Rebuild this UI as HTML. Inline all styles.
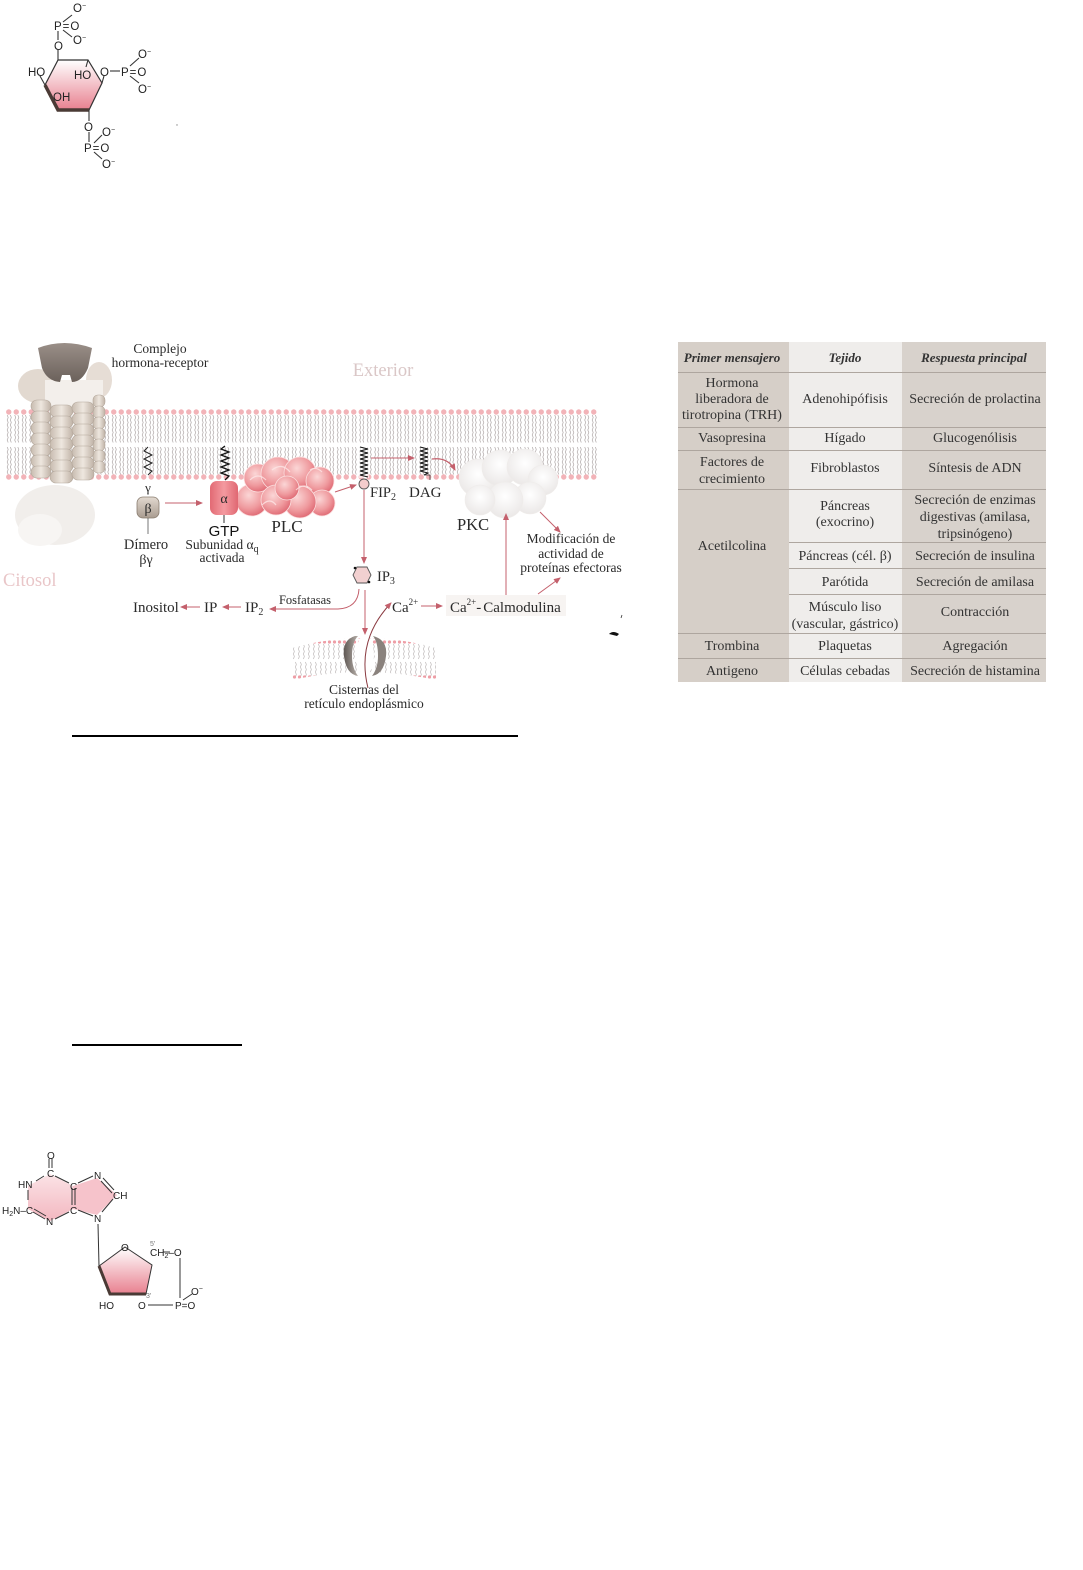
<!DOCTYPE html>
<html><head><meta charset="utf-8">
<style>
html,body{margin:0;padding:0;background:#fff;}
body{width:1083px;height:1570px;position:relative;overflow:hidden;}
svg{position:absolute;left:0;top:0;}
.s{font-family:"Liberation Serif",serif;fill:#2a2a2a;}
.a{font-family:"Liberation Sans",sans-serif;fill:#222;}
.t{font-family:"Liberation Serif",serif;fill:#333;font-size:14px;text-anchor:middle;}
.h{font-family:"Liberation Serif",serif;fill:#333;font-size:13px;font-style:italic;font-weight:bold;text-anchor:middle;}
</style></head>
<body>
<svg width="1083" height="1570" viewBox="0 0 1083 1570" xmlns="http://www.w3.org/2000/svg">
<defs>
  <linearGradient id="pinkv" x1="0" y1="0" x2="0" y2="1">
    <stop offset="0" stop-color="#ffffff"/>
    <stop offset="1" stop-color="#e8808f"/>
  </linearGradient>
  <linearGradient id="pinkv2" x1="0" y1="0" x2="0" y2="1">
    <stop offset="0" stop-color="#fbe3e6"/>
    <stop offset="1" stop-color="#f3b7c0"/>
  </linearGradient>
  <radialGradient id="plc" cx="0.4" cy="0.35" r="0.7">
    <stop offset="0" stop-color="#fbd6d6"/>
    <stop offset="0.6" stop-color="#ef9a9e"/>
    <stop offset="1" stop-color="#de6570"/>
  </radialGradient>
  <linearGradient id="alpha" x1="0" y1="0" x2="1" y2="0">
    <stop offset="0" stop-color="#e26a74"/>
    <stop offset="0.5" stop-color="#f49aa0"/>
    <stop offset="1" stop-color="#e06872"/>
  </linearGradient>
  <linearGradient id="beta" x1="0" y1="0" x2="0" y2="1">
    <stop offset="0" stop-color="#e2d9d0"/>
    <stop offset="1" stop-color="#a99c90"/>
  </linearGradient>
  <radialGradient id="pkc" cx="0.5" cy="0.4" r="0.6">
    <stop offset="0" stop-color="#ffffff"/>
    <stop offset="1" stop-color="#ebe8e7"/>
  </radialGradient>
  <linearGradient id="col" x1="0" y1="0" x2="1" y2="0">
    <stop offset="0" stop-color="#c7bbaf"/>
    <stop offset="0.5" stop-color="#eee7df"/>
    <stop offset="1" stop-color="#bfb2a6"/>
  </linearGradient>
  <linearGradient id="cap" x1="0" y1="0" x2="0" y2="1">
    <stop offset="0" stop-color="#9a8f88"/>
    <stop offset="1" stop-color="#6b615b"/>
  </linearGradient>
  <linearGradient id="chan" x1="0" y1="0" x2="1" y2="0">
    <stop offset="0" stop-color="#5f5854"/>
    <stop offset="1" stop-color="#b6aea8"/>
  </linearGradient>
  <pattern id="lip" x="5" y="409" width="7.5" height="72" patternUnits="userSpaceOnUse">
    <path d="M2.2,6 l1,2.5 l-1,2.5 l1,2.5 l-1,2.5 l1,2.5 l-1,2.5 l1,2.5 l-1,2.5 l1,2.5 l-1,2.5 l1,2.5 M5.3,6 l1,2.5 l-1,2.5 l1,2.5 l-1,2.5 l1,2.5 l-1,2.5 l1,2.5 l-1,2.5 l1,2.5 l-1,2.5 l1,2.5 M2.2,38 l1,2.5 l-1,2.5 l1,2.5 l-1,2.5 l1,2.5 l-1,2.5 l1,2.5 l-1,2.5 l1,2.5 l-1,2.5 l1,2.5 M5.3,38 l1,2.5 l-1,2.5 l1,2.5 l-1,2.5 l1,2.5 l-1,2.5 l1,2.5 l-1,2.5 l1,2.5 l-1,2.5 l1,2.5" fill="none" stroke="#b4adad" stroke-width="0.75"/>
    <circle cx="3.75" cy="3" r="2.7" fill="#f2b3b8"/>
    <circle cx="3.75" cy="68" r="2.7" fill="#f2b3b8"/>
  </pattern>
  <pattern id="lip2" x="292" y="640" width="5" height="40" patternUnits="userSpaceOnUse">
    <path d="M1.5,4 l0.8,2.5 l-0.8,2.5 l0.8,2.5 l-0.8,2.5 l0.8,2.5 l-0.8,2.5 M3.5,22 l0.8,2.5 l-0.8,2.5 l0.8,2.5 l-0.8,2.5 l0.8,2.5 l-0.8,2.5" fill="none" stroke="#b4adad" stroke-width="0.6"/>
    <circle cx="2.5" cy="2" r="1.6" fill="#ee9ea6"/>
    <circle cx="2.5" cy="37" r="1.6" fill="#ee9ea6"/>
  </pattern>
  <marker id="ar" markerWidth="8" markerHeight="8" refX="6" refY="3" orient="auto" markerUnits="userSpaceOnUse">
    <path d="M0,0 L7,3 L0,6 Z" fill="#c4606c"/>
  </marker>
</defs>

<!-- ============ TOP MOLECULE (IP3) ============ -->
<path d="M58,60 L88,60 L102,83 L89,110 L58,110 L45,85 Z" fill="url(#pinkv)" stroke="#333" stroke-width="1.2"/>
<path d="M45,85 L58,110 L89,110" fill="none" stroke="#4a3a35" stroke-width="3.5"/>
<g stroke="#333" stroke-width="1.1" fill="none">
  <line x1="58" y1="50" x2="58" y2="60"/>
  <line x1="58" y1="31" x2="58" y2="40"/>
  <line x1="63" y1="22" x2="72" y2="15"/>
  <line x1="63" y1="30" x2="72" y2="37"/>
  <line x1="40" y1="76" x2="45" y2="85"/>
  <line x1="88" y1="60" x2="86" y2="67"/>
  <line x1="102" y1="83" x2="104" y2="76"/>
  <line x1="110" y1="71" x2="120" y2="71"/>
  <line x1="130" y1="66" x2="139" y2="58"/>
  <line x1="130" y1="76" x2="139" y2="83"/>
  <line x1="89" y1="110" x2="89" y2="121"/>
  <line x1="89" y1="132" x2="89" y2="142"/>
  <line x1="94" y1="143" x2="102" y2="135"/>
  <line x1="94" y1="152" x2="102" y2="159"/>
</g>
<g class="a" font-size="11.5">
  <text x="73" y="12">O<tspan font-size="7" dy="-4">−</tspan></text>
  <text x="54" y="30">P<tspan dx="1">=</tspan><tspan dx="1">O</tspan></text>
  <text x="73" y="44">O<tspan font-size="7" dy="-4">−</tspan></text>
  <text x="54" y="50">O</text>
  <text x="28" y="76">HO</text>
  <text x="74" y="79">HO</text>
  <text x="100" y="76">O</text>
  <text x="121" y="76">P<tspan dx="1">=</tspan><tspan dx="1">O</tspan></text>
  <text x="138" y="58">O<tspan font-size="7" dy="-4">−</tspan></text>
  <text x="138" y="93">O<tspan font-size="7" dy="-4">−</tspan></text>
  <text x="53" y="101">OH</text>
  <text x="84" y="131">O</text>
  <text x="102" y="136">O<tspan font-size="7" dy="-4">−</tspan></text>
  <text x="84" y="152">P<tspan dx="1">=</tspan><tspan dx="1">O</tspan></text>
  <text x="102" y="168">O<tspan font-size="7" dy="-4">−</tspan></text>
</g>
<circle cx="177" cy="125" r="0.7" fill="#888"/>

<!-- ============ SIGNAL DIAGRAM ============ -->
<text class="s" x="383" y="376" font-size="18.5" text-anchor="middle" style="fill:#dac7c7">Exterior</text>
<text class="s" x="3" y="586" font-size="18.5" style="fill:#e9c6c8">Citosol</text>

<!-- membrane -->
<rect x="5" y="409" width="592" height="72" fill="url(#lip)"/>

<!-- receptor -->
<ellipse cx="55" cy="515" rx="40" ry="30" fill="#f1eeeb"/>
<ellipse cx="40" cy="530" rx="22" ry="16" fill="#f7f5f3"/>
<ellipse cx="38" cy="386" rx="20" ry="17" fill="#e2d9d0"/>
<ellipse cx="99" cy="380" rx="13" ry="18" fill="#e6ddd5"/>
<rect x="45" y="380" width="58" height="30" fill="#f3efeb"/>
<g stroke="#b3a79b" stroke-width="0.6">
  <g fill="url(#col)">
    <rect x="31" y="400" width="20" height="12" rx="6"/>
    <rect x="31" y="411" width="20" height="12" rx="6"/>
    <rect x="31" y="422" width="20" height="12" rx="6"/>
    <rect x="31" y="433" width="20" height="12" rx="6"/>
    <rect x="31" y="444" width="20" height="12" rx="6"/>
    <rect x="31" y="455" width="20" height="12" rx="6"/>
    <rect x="31" y="466" width="20" height="12" rx="6"/>
    <rect x="93" y="395" width="12" height="12" rx="5"/>
    <rect x="93" y="406" width="12" height="12" rx="5"/>
    <rect x="93" y="417" width="12" height="12" rx="5"/>
    <rect x="93" y="428" width="12" height="12" rx="5"/>
    <rect x="93" y="439" width="12" height="12" rx="5"/>
    <rect x="93" y="450" width="12" height="12" rx="5"/>
    <rect x="93" y="461" width="12" height="12" rx="5"/>
    <rect x="50" y="405" width="23" height="12" rx="6"/>
    <rect x="50" y="416" width="23" height="12" rx="6"/>
    <rect x="50" y="427" width="23" height="12" rx="6"/>
    <rect x="50" y="438" width="23" height="12" rx="6"/>
    <rect x="50" y="449" width="23" height="12" rx="6"/>
    <rect x="50" y="460" width="23" height="12" rx="6"/>
    <rect x="50" y="471" width="23" height="12" rx="6"/>
    <rect x="72" y="402" width="22" height="12" rx="6"/>
    <rect x="72" y="413" width="22" height="12" rx="6"/>
    <rect x="72" y="424" width="22" height="12" rx="6"/>
    <rect x="72" y="435" width="22" height="12" rx="6"/>
    <rect x="72" y="446" width="22" height="12" rx="6"/>
    <rect x="72" y="457" width="22" height="12" rx="6"/>
    <rect x="72" y="468" width="22" height="12" rx="6"/>
  </g>
</g>
<path d="M38,348 Q64,338 92,348 L88,368 Q82,382 72,382 L70,375 L62,375 L60,382 Q47,381 42,368 Z" fill="url(#cap)"/>
<text class="s" x="160" y="353" font-size="13.5" text-anchor="middle">Complejo</text>
<text class="s" x="160" y="367" font-size="13.5" text-anchor="middle">hormona-receptor</text>

<!-- beta gamma -->
<polyline points="148,447 144,451 152,455 144,459 152,463 144,467 152,471 148,475" fill="none" stroke="#222" stroke-width="1"/>
<text class="s" x="148" y="492" font-size="13" text-anchor="middle">γ</text>
<rect x="137" y="497" width="22" height="21" rx="6" fill="url(#beta)" stroke="#8a7d70" stroke-width="0.8"/>
<text class="s" x="148" y="513" font-size="14" text-anchor="middle">β</text>
<line x1="148" y1="518" x2="148" y2="534" stroke="#555" stroke-width="0.8"/>
<text class="s" x="146" y="549" font-size="14.5" text-anchor="middle">Dímero</text>
<text class="s" x="146" y="564" font-size="14" text-anchor="middle">βγ</text>
<line x1="165" y1="503" x2="202" y2="503" stroke="#c4606c" stroke-width="1" marker-end="url(#ar)"/>

<!-- PLC -->
<g fill="url(#plc)" stroke="#fbe0e0" stroke-width="0.8">
  <circle cx="252" cy="500" r="16"/>
  <circle cx="258" cy="478" r="14"/>
  <circle cx="278" cy="474" r="17"/>
  <circle cx="300" cy="473" r="16"/>
  <circle cx="320" cy="481" r="14"/>
  <circle cx="322" cy="503" r="13"/>
  <circle cx="300" cy="502" r="16"/>
  <circle cx="276" cy="500" r="15"/>
  <circle cx="287" cy="488" r="12"/>
</g>
<g fill="none" stroke="#fde6e6" stroke-width="1.2" opacity="0.8">
  <path d="M250,480 q8,-8 16,0"/><path d="M272,470 q10,-8 18,2"/><path d="M296,490 q8,-8 16,0"/><path d="M262,505 q8,-8 14,0"/><path d="M310,470 q6,-4 12,2"/>
</g>
<text class="s" x="287" y="532" font-size="17" text-anchor="middle">PLC</text>

<!-- alpha -->
<polyline points="225,446 221,449 229,452 221,455 229,458 221,461 229,464 221,467 229,470 221,473 229,476 225,480" fill="none" stroke="#111" stroke-width="1.3"/>
<rect x="210" y="481" width="28" height="34" rx="7" fill="url(#alpha)"/>
<text class="s" x="224" y="503" font-size="14" text-anchor="middle">α</text>
<line x1="224" y1="515" x2="224" y2="523" stroke="#333" stroke-width="1"/>
<text class="a" x="224" y="536" font-size="15" text-anchor="middle" style="fill:#111">GTP</text>
<text class="s" x="222" y="549" font-size="13.5" text-anchor="middle">Subunidad α<tspan font-size="10" dy="3">q</tspan></text>
<text class="s" x="222" y="562" font-size="13.5" text-anchor="middle">activada</text>

<!-- FIP2 / DAG -->
<line x1="335" y1="492" x2="356" y2="485" stroke="#c4606c" stroke-width="1" marker-end="url(#ar)"/>
<rect x="359" y="446" width="10" height="32" fill="#fff" opacity="0.6"/>
<polyline points="360,447 368,449 360,451 368,453 360,455 368,457 360,459 368,461 360,463 368,465 360,467 368,469 360,471 368,473 360,475 368,477" fill="none" stroke="#111" stroke-width="1"/>
<circle cx="364" cy="484" r="5" fill="#f4cccc" stroke="#555" stroke-width="0.9"/>
<text class="s" x="370" y="497" font-size="14.5">FIP<tspan font-size="10" dy="3">2</tspan></text>
<line x1="371" y1="458" x2="414" y2="458" stroke="#c4606c" stroke-width="1" marker-end="url(#ar)"/>
<polyline points="420,447 428,449 420,451 428,453 420,455 428,457 420,459 428,461 420,463 428,465 420,467 428,469 420,471 428,473 424,475" fill="none" stroke="#111" stroke-width="1"/>
<path d="M424,475 L430,475 L430,480" fill="none" stroke="#333" stroke-width="0.8"/>
<text class="s" x="409" y="497" font-size="15">DAG</text>
<path d="M432,459 Q448,457 455,470" fill="none" stroke="#c4606c" stroke-width="1.2" marker-end="url(#ar)"/>

<!-- PKC -->
<g fill="url(#pkc)" stroke="#efecea" stroke-width="0.6">
  <circle cx="478" cy="478" r="19"/>
  <circle cx="500" cy="468" r="18"/>
  <circle cx="525" cy="467" r="18"/>
  <circle cx="543" cy="480" r="15"/>
  <circle cx="530" cy="498" r="16"/>
  <circle cx="505" cy="500" r="18"/>
  <circle cx="480" cy="500" r="15"/>
</g>
<text class="s" x="457" y="530" font-size="16.5">PKC</text>
<line x1="540" y1="512" x2="560" y2="532" stroke="#c4606c" stroke-width="1" marker-end="url(#ar)"/>
<text class="s" x="571" y="543" font-size="13.5" text-anchor="middle">Modificación de</text>
<text class="s" x="571" y="558" font-size="13.5" text-anchor="middle">actividad de</text>
<text class="s" x="571" y="572" font-size="13.5" text-anchor="middle">proteínas efectoras</text>
<line x1="538" y1="594" x2="560" y2="578" stroke="#c4606c" stroke-width="1" marker-end="url(#ar)"/>
<line x1="506" y1="596" x2="506" y2="514" stroke="#c4606c" stroke-width="1" marker-end="url(#ar)"/>

<!-- IP3 -->
<line x1="364" y1="490" x2="364" y2="563" stroke="#c4606c" stroke-width="1" marker-end="url(#ar)"/>
<polygon points="357,567 367,567 371,575 367,583 357,583 353,575" fill="#f2d0d0" stroke="#555" stroke-width="0.9"/>
<circle cx="355" cy="568" r="1.3" fill="#111"/><circle cx="369" cy="582" r="1.3" fill="#111"/>
<text class="s" x="377" y="581" font-size="14.5">IP<tspan font-size="10" dy="3">3</tspan></text>
<line x1="365" y1="590" x2="365" y2="634" stroke="#c4606c" stroke-width="1" marker-end="url(#ar)"/>
<path d="M359,589 Q358,608 338,609 L270,609" fill="none" stroke="#c4606c" stroke-width="1" marker-end="url(#ar)"/>
<text class="s" x="305" y="604" font-size="12.5" text-anchor="middle">Fosfatasas</text>
<text class="s" x="245" y="612" font-size="15">IP<tspan font-size="10" dy="3">2</tspan></text>
<line x1="241" y1="607" x2="223" y2="607" stroke="#c4606c" stroke-width="1" marker-end="url(#ar)"/>
<text class="s" x="204" y="612" font-size="15">IP</text>
<line x1="200" y1="607" x2="181" y2="607" stroke="#c4606c" stroke-width="1" marker-end="url(#ar)"/>
<text class="s" x="133" y="612" font-size="15">Inositol</text>

<!-- Ca -->
<text class="s" x="392" y="612" font-size="15">Ca<tspan font-size="9" dy="-7">2+</tspan></text>
<line x1="421" y1="606" x2="442" y2="606" stroke="#c4606c" stroke-width="1" marker-end="url(#ar)"/>
<rect x="446" y="595" width="120" height="21" fill="#f7f4f2"/>
<text class="s" x="450" y="612" font-size="15">Ca<tspan font-size="9" dy="-7">2+</tspan><tspan dy="7">-</tspan><tspan dx="2">Calmodulina</tspan></text>
<path d="M621,618 l1,-3" stroke="#333" stroke-width="0.8"/>
<path d="M609,634 q4,-4 10,0 l-2,2 q-4,-1 -8,-2z" fill="#111"/>

<!-- ER -->
<path d="M292,648 Q364,628 436,648 L436,680 Q364,664 292,680 Z" fill="url(#lip2)"/>
<ellipse cx="365" cy="655" rx="9" ry="20" fill="#ffffff"/>
<path d="M355,636 Q342,640 344,656 Q346,674 358,676 Q352,668 352,656 Q352,642 358,636 Z" fill="url(#chan)"/>
<path d="M373,636 Q388,640 386,656 Q384,674 372,676 Q378,668 378,656 Q378,642 373,636 Z" fill="#8a827d"/>
<path d="M368,688 Q356,640 391,603" fill="none" stroke="#8a3a40" stroke-width="1" marker-end="url(#ar)"/>
<text class="s" x="364" y="694" font-size="13.5" text-anchor="middle">Cisternas del</text>
<text class="s" x="364" y="708" font-size="13.5" text-anchor="middle">retículo endoplásmico</text>

<!-- separator lines -->
<line x1="72" y1="736" x2="518" y2="736" stroke="#000" stroke-width="2"/>
<line x1="72" y1="1045" x2="242" y2="1045" stroke="#000" stroke-width="2"/>

<!-- ============ TABLE ============ -->
<rect x="678" y="342" width="111" height="340" fill="#d6cfc8"/>
<rect x="789" y="342" width="113" height="340" fill="#efedeb"/>
<rect x="902" y="342" width="144" height="340" fill="#d8d2cc"/>
<g stroke="#aea69f" stroke-width="1">
  <line x1="678" y1="372.5" x2="1046" y2="372.5"/>
  <line x1="678" y1="427.5" x2="1046" y2="427.5"/>
  <line x1="678" y1="450.5" x2="1046" y2="450.5"/>
  <line x1="678" y1="489.5" x2="1046" y2="489.5"/>
  <line x1="789" y1="542.5" x2="1046" y2="542.5"/>
  <line x1="789" y1="568.5" x2="1046" y2="568.5"/>
  <line x1="789" y1="594.5" x2="1046" y2="594.5"/>
  <line x1="678" y1="633.5" x2="1046" y2="633.5"/>
  <line x1="678" y1="658.5" x2="1046" y2="658.5"/>
</g>
<text class="h" x="732" y="362">Primer mensajero</text>
<text class="h" x="845" y="362">Tejido</text>
<text class="h" x="974" y="362">Respuesta principal</text>

<text class="t" x="732" y="387">Hormona</text>
<text class="t" x="732" y="403">liberadora de</text>
<text class="t" x="732" y="419">tirotropina (TRH)</text>
<text class="t" x="845" y="403">Adenohipófisis</text>
<text class="t" x="975" y="403">Secreción de prolactina</text>

<text class="t" x="732" y="442">Vasopresina</text>
<text class="t" x="845" y="442">Hígado</text>
<text class="t" x="975" y="442">Glucogenólisis</text>

<text class="t" x="732" y="466">Factores de</text>
<text class="t" x="732" y="483">crecimiento</text>
<text class="t" x="845" y="472">Fibroblastos</text>
<text class="t" x="975" y="472">Síntesis de ADN</text>

<text class="t" x="732" y="550">Acetilcolina</text>
<text class="t" x="845" y="510">Páncreas</text>
<text class="t" x="845" y="526">(exocrino)</text>
<text class="t" x="975" y="504">Secreción de enzimas</text>
<text class="t" x="975" y="521">digestivas (amilasa,</text>
<text class="t" x="975" y="538">tripsinógeno)</text>

<text class="t" x="845" y="560">Páncreas (cél. β)</text>
<text class="t" x="975" y="560">Secreción de insulina</text>

<text class="t" x="845" y="586">Parótida</text>
<text class="t" x="975" y="586">Secreción de amilasa</text>

<text class="t" x="845" y="611">Músculo liso</text>
<text class="t" x="845" y="628">(vascular, gástrico)</text>
<text class="t" x="975" y="616">Contracción</text>

<text class="t" x="732" y="650">Trombina</text>
<text class="t" x="845" y="650">Plaquetas</text>
<text class="t" x="975" y="650">Agregación</text>

<text class="t" x="732" y="675">Antigeno</text>
<text class="t" x="845" y="675">Células cebadas</text>
<text class="t" x="975" y="675">Secreción de histamina</text>

<!-- ============ BOTTOM MOLECULE (cGMP) ============ -->
<path d="M50,1174 L73,1186 L73,1209 L50,1221 L28,1209 L28,1186 Z" fill="url(#pinkv2)"/>
<path d="M73,1186 L97,1178 L117,1195 L97,1215 L73,1209 Z" fill="#f6c3cb"/>
<g stroke="#333" stroke-width="1" fill="none">
  <line x1="49" y1="1159" x2="49" y2="1168"/><line x1="52" y1="1159" x2="52" y2="1168"/>
  <line x1="55" y1="1176" x2="69" y2="1183"/>
  <line x1="72" y1="1188" x2="72" y2="1205"/><line x1="75" y1="1188" x2="75" y2="1205"/>
  <line x1="69" y1="1212" x2="55" y2="1219"/>
  <line x1="45" y1="1219" x2="33" y2="1212"/><line x1="46" y1="1216" x2="34" y2="1209"/>
  <line x1="28" y1="1200" x2="28" y2="1190"/>
  <line x1="44" y1="1176" x2="36" y2="1181"/>
  <line x1="78" y1="1183" x2="93" y2="1176"/>
  <line x1="103" y1="1178" x2="114" y2="1190"/><line x1="101" y1="1181" x2="112" y2="1193"/>
  <line x1="113" y1="1199" x2="102" y2="1212"/>
  <line x1="78" y1="1210" x2="93" y2="1216"/>
  <line x1="98" y1="1224" x2="99" y2="1266"/>
  <line x1="163" y1="1252" x2="170" y2="1252"/>
  <line x1="180" y1="1258" x2="180" y2="1298"/>
  <line x1="148" y1="1305" x2="173" y2="1305"/>
  <line x1="183" y1="1300" x2="192" y2="1294"/>
</g>
<path d="M125,1247 L152,1265 L146,1294 L110,1294 L99,1266 Z" fill="url(#pinkv)" stroke="#333" stroke-width="1"/>
<path d="M99,1266 L110,1294 L146,1294" fill="none" stroke="#4a3a35" stroke-width="3"/>
<g class="a" font-size="10">
  <text x="47" y="1159">O</text>
  <text x="47" y="1177">C</text>
  <text x="70" y="1190">C</text>
  <text x="70" y="1214">C</text>
  <text x="46" y="1225">N</text>
  <text x="2" y="1214">H<tspan font-size="7" dy="2">2</tspan><tspan dy="-2">N–C</tspan></text>
  <text x="18" y="1188">HN</text>
  <text x="94" y="1179">N</text>
  <text x="113" y="1199">CH</text>
  <text x="94" y="1222">N</text>
  <text x="121" y="1251">O</text>
  <text x="150" y="1256">CH<tspan font-size="7" dy="2">2</tspan><tspan dy="-2">–O</tspan></text>
  <text x="99" y="1309">HO</text>
  <text x="138" y="1309">O</text>
  <text x="175" y="1309">P<tspan>=O</tspan></text>
  <text x="191" y="1295">O<tspan font-size="7" dy="-4">−</tspan></text>
</g>
<text class="a" x="150" y="1246" font-size="7" style="fill:#777">5'</text>
<text class="a" x="146" y="1298" font-size="7" style="fill:#777">3'</text>
</svg>
</body></html>
